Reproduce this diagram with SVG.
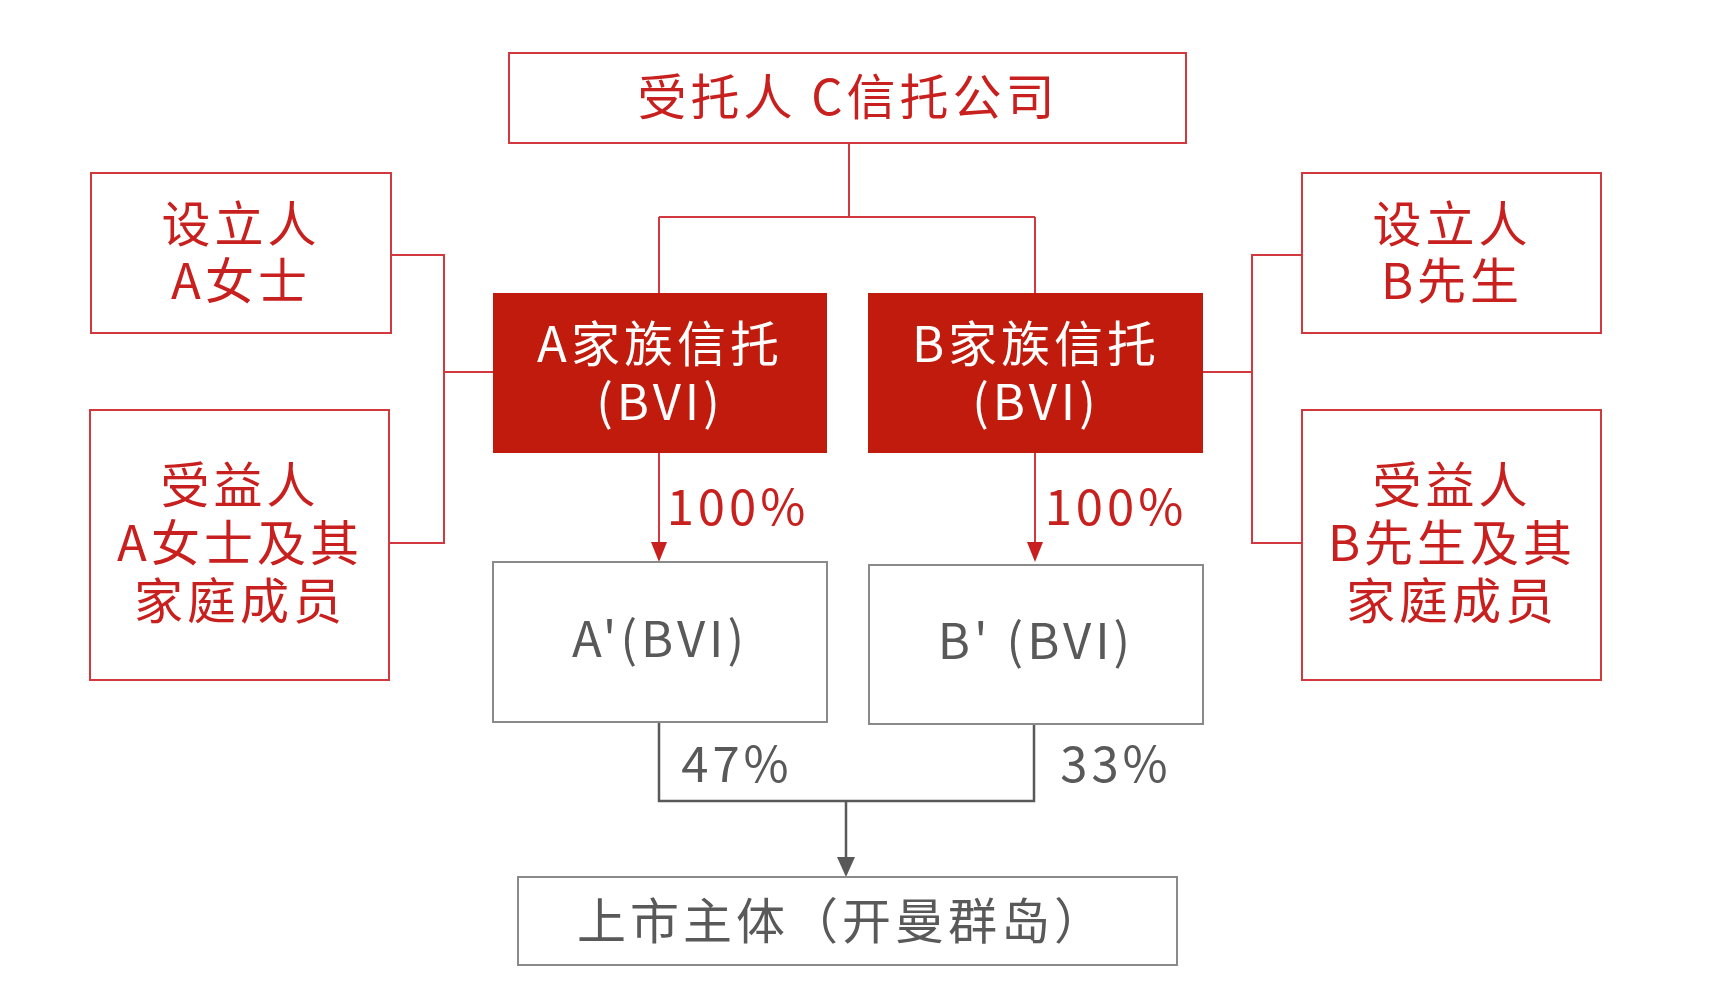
<svg xmlns="http://www.w3.org/2000/svg" width="1728" height="997" viewBox="0 0 1728 997">
<style>
.t{font-family:"Noto Sans CJK SC","Noto Sans",sans-serif;font-size:49px;letter-spacing:4px;text-anchor:middle}
.red{fill:#C8201E}
.wht{fill:#ffffff}
.gry{fill:#595959}
.rbox{fill:#ffffff;stroke:#D2393E;stroke-width:2}
.fbox{fill:#C01B0C;stroke:none}
.gbox{fill:#ffffff;stroke:#8A8A8A;stroke-width:2}
.rl{fill:none;stroke:#D2393E;stroke-width:2}
.gl{fill:none;stroke:#595959;stroke-width:2.5}
</style>
<rect width="1728" height="997" fill="#ffffff"/>
<g id="connectors">
<path class="rl" d="M849,143 V217 M659,217 H1035 M659,217 V293 M1035,217 V293"/>
<path class="rl" d="M391,255 H444 V543 H389 M444,372 H493"/>
<path class="rl" d="M1302,255 H1252 V543 H1302 M1252,372 H1203"/>
<path class="rl" d="M659,453 V545"/>
<path d="M651,542 L667,542 L659,562 z" fill="#C8201E"/>
<path class="rl" d="M1035,453 V545"/>
<path d="M1027,542 L1043,542 L1035,562 z" fill="#C8201E"/>
<path class="gl" d="M659,722 V801 H1034 V724 M846,801 V860"/>
<path d="M837,857 L855,857 L846,877 z" fill="#595959"/>
</g>
<g id="trustee">
<rect class="rbox" x="509" y="53" width="677" height="90"/>
<text class="t red" x="848" y="115">受托人 C信托公司</text>
</g>
<g id="settlorA">
<rect class="rbox" x="91" y="173" width="300" height="160"/>
<text class="t red" x="241" y="242">设立人</text>
<text class="t red" x="241" y="299">A女士</text>
</g>
<g id="beneficiaryA">
<rect class="rbox" x="90" y="410" width="299" height="270"/>
<text class="t red" x="240" y="503">受益人</text>
<text class="t red" x="240" y="561">A女士及其</text>
<text class="t red" x="240" y="619">家庭成员</text>
</g>
<g id="settlorB">
<rect class="rbox" x="1302" y="173" width="299" height="160"/>
<text class="t red" x="1452" y="242">设立人</text>
<text class="t red" x="1452" y="299">B先生</text>
</g>
<g id="beneficiaryB">
<rect class="rbox" x="1302" y="410" width="299" height="270"/>
<text class="t red" x="1452" y="503">受益人</text>
<text class="t red" x="1452" y="561">B先生及其</text>
<text class="t red" x="1452" y="619">家庭成员</text>
</g>
<g id="trustA">
<rect class="fbox" x="493" y="293" width="334" height="160"/>
<text class="t wht" x="660" y="362">A家族信托</text>
<text class="t wht" x="660" y="420">(BVI)</text>
</g>
<g id="trustB">
<rect class="fbox" x="868" y="293" width="335" height="160"/>
<text class="t wht" x="1036" y="362">B家族信托</text>
<text class="t wht" x="1036" y="420">(BVI)</text>
</g>
<g id="labels">
<text class="t red" x="738" y="525">100%</text>
<text class="t red" x="1116" y="525">100%</text>
<text class="t gry" x="737" y="782">47%</text>
<text class="t gry" x="1116" y="782">33%</text>
</g>
<g id="companyA">
<rect class="gbox" x="493" y="562" width="334" height="160"/>
<text class="t gry" x="660" y="657">A'(BVI)</text>
</g>
<g id="companyB">
<rect class="gbox" x="869" y="565" width="334" height="159"/>
<text class="t gry" x="1036" y="659">B' (BVI)</text>
</g>
<g id="listed">
<rect class="gbox" x="518" y="877" width="659" height="88"/>
<text class="t gry" x="842" y="939">上市主体（开曼群岛）</text>
</g>
</svg>
